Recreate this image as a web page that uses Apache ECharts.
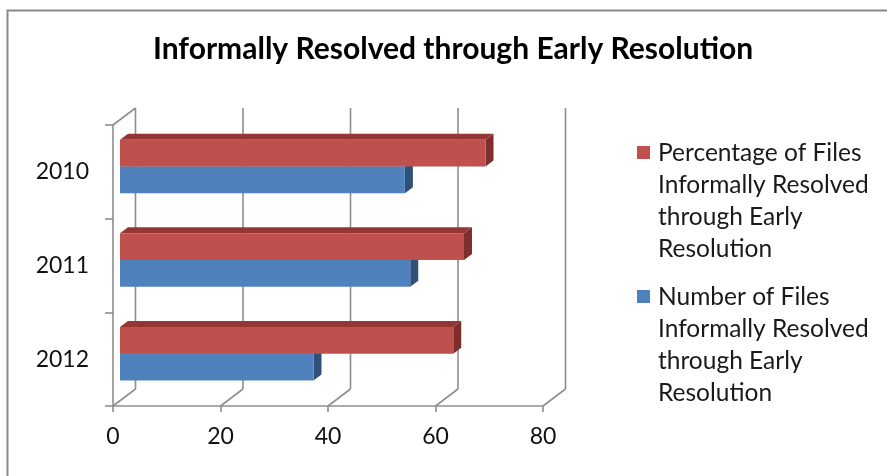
<!DOCTYPE html>
<html>
<head>
<meta charset="utf-8">
<script src="https://cdn.jsdelivr.net/npm/echarts@6/dist/echarts.min.js"></script>
<style>
  html, body { margin: 0; padding: 0; background: #fff; }
  #chart { width: 887px; height: 476px; }
</style>
</head>
<body>
<div id="chart"></div>
<script>
// Categories and values
const years = ['2010', '2011', '2012'];
const percentName = 'Percentage of Files Informally Resolved through Early Resolution';
const numberName = 'Number of Files Informally Resolved through Early Resolution';
const percentValues = [68, 64, 62];
const numberValues = [53, 54, 36];
const xTicks = [0, 20, 40, 60, 80];

const FONT = 'Lato, "Open Sans", sans-serif';
const GRID_COLOR = '#8e8e8e';

// Oblique 3D projection: full depth of the floor / walls, and the slab the bars sit in
const DEPTH = { x: 22.5, y: -17 };
const BAR_FRONT = { x: 7, y: -5.4 };
const BAR_DEPTH = { x: 8, y: -6 };

const chart = echarts.init(document.getElementById('chart'), null, { renderer: 'canvas' });

// Back wall grid lines, floor depth lines and the left wall top edge
function wallItem(params, api) {
  const cs = params.coordSys;
  const x = api.coord([api.value(0), 0])[0];
  const top = cs.y, bottom = cs.y + cs.height;
  const style = { stroke: GRID_COLOR, lineWidth: 1.6, fill: null };
  const children = [
    { type: 'line', shape: { x1: x + DEPTH.x, y1: top + DEPTH.y, x2: x + DEPTH.x, y2: bottom + DEPTH.y }, style },
    { type: 'line', shape: { x1: x, y1: bottom, x2: x + DEPTH.x, y2: bottom + DEPTH.y }, style }
  ];
  if (params.dataIndex === 0) {
    children.push({ type: 'line', shape: { x1: x, y1: top, x2: x + DEPTH.x, y2: top + DEPTH.y }, style });
  }
  return { type: 'group', children };
}

// A 3D slab bar: top face, right end face and front face
function makeBarItem(slot, front, top, side) {
  return function (params, api) {
    const val = api.value(0);
    const cat = api.value(1);
    const p0 = api.coord([0, cat]);
    const p1 = api.coord([val, cat]);
    const band = api.size([0, 1])[1];
    const h = band / 3.5;
    const x0 = p0[0] + BAR_FRONT.x;
    const x1 = p1[0] + BAR_FRONT.x;
    const y0 = (slot === 0 ? p0[1] - h : p0[1]) + BAR_FRONT.y;
    const y1 = y0 + h;
    const dx = BAR_DEPTH.x, dy = BAR_DEPTH.y;
    return {
      type: 'group',
      children: [
        { type: 'polygon', shape: { points: [[x0, y0], [x1, y0], [x1 + dx, y0 + dy], [x0 + dx, y0 + dy]] }, style: { fill: top } },
        { type: 'polygon', shape: { points: [[x1, y0], [x1, y1], [x1 + dx, y1 + dy], [x1 + dx, y0 + dy]] }, style: { fill: side } },
        { type: 'rect', shape: { x: x0, y: y0, width: x1 - x0, height: y1 - y0 }, style: { fill: front } }
      ]
    };
  };
}

// Wrap a series name into lines of at most ~19 characters
function wrap(name) {
  const out = [];
  let line = '';
  name.split(' ').forEach(w => {
    const next = line ? line + ' ' + w : w;
    if (next.length > 19 && line) { out.push(line); line = w; } else { line = next; }
  });
  if (line) out.push(line);
  return out.join('\n');
}

// Legend entry: square marker beside the first line of the wrapped name
function legendBlock(name, color, y) {
  return [
    { type: 'rect', left: 637, top: y - 7, shape: { width: 13, height: 13 }, style: { fill: color } },
    { type: 'text', left: 658, top: y - 16, style: { text: wrap(name), font: '24.5px ' + FONT, fill: '#1a1a1a', lineHeight: 32 } }
  ];
}

const option = {
  backgroundColor: '#fff',
  animation: false,
  title: {
    text: 'Informally Resolved through Early Resolution',
    left: 148,
    top: 29,
    padding: 5,
    textStyle: { fontFamily: FONT, fontWeight: 'bold', fontSize: 30, color: '#000' }
  },
  grid: { left: 113, top: 125, width: 430, height: 281 },
  xAxis: {
    type: 'value', min: 0, max: 80, interval: 20,
    axisLine: { show: true, lineStyle: { color: GRID_COLOR, width: 1.6 } },
    axisTick: { show: true, length: 6, lineStyle: { color: GRID_COLOR, width: 1.6 } },
    axisLabel: { fontFamily: FONT, fontSize: 23, color: '#111', margin: 19 },
    splitLine: { show: false }
  },
  yAxis: {
    type: 'category', inverse: true, data: years,
    axisLine: { show: true, lineStyle: { color: GRID_COLOR, width: 1.6 } },
    axisTick: { show: true, length: 8, lineStyle: { color: GRID_COLOR, width: 1.6 } },
    axisLabel: { fontFamily: FONT, fontSize: 23, color: '#111', margin: 24 },
    splitLine: { show: false }
  },
  graphic: [
    { type: 'rect', left: 5, top: 8, shape: { width: 900, height: 500 }, style: { fill: null, stroke: '#8a8a8a', lineWidth: 2 } },
    ...legendBlock(percentName, '#C0504D', 153),
    ...legendBlock(numberName, '#4F81BD', 297)
  ],
  series: [
    {
      type: 'custom', name: 'walls', z: 1, silent: true,
      data: xTicks.map(v => [v]),
      encode: { x: 0 },
      renderItem: wallItem
    },
    {
      type: 'custom', name: numberName, z: 2,
      data: numberValues.map((v, i) => [v, i]),
      encode: { x: 0, y: 1 },
      renderItem: makeBarItem(1, '#4F81BD', '#3A6499', '#2F5179')
    },
    {
      type: 'custom', name: percentName, z: 3,
      data: percentValues.map((v, i) => [v, i]),
      encode: { x: 0, y: 1 },
      renderItem: makeBarItem(0, '#C0504D', '#943634', '#7E2F2D')
    }
  ]
};

chart.setOption(option);
</script>
</body>
</html>
